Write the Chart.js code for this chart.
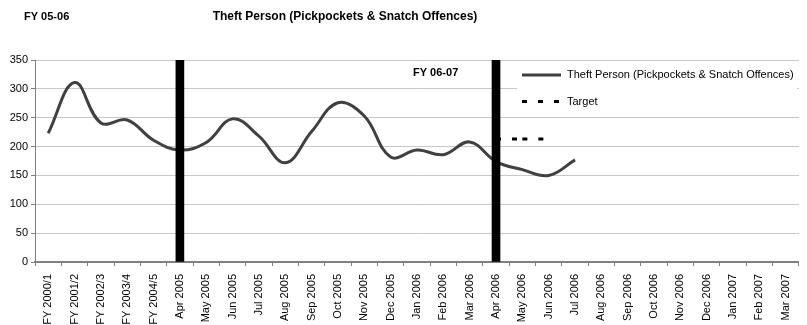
<!DOCTYPE html>
<html>
<head>
<meta charset="utf-8">
<script src="https://cdn.jsdelivr.net/npm/chart.js@4"></script>
<style>
    body { margin: 0; background: #fff; }
    .chart-box { position: relative; width: 807px; height: 325px; }
</style>
</head>
<body>
<div class="chart-box">
    <canvas id="chart-theft-person"></canvas>
</div>
<script>
// Data
var months = [
    "FY 2000/1", "FY 2001/2", "FY 2002/3", "FY 2003/4", "FY 2004/5",
    "Apr 2005", "May 2005", "Jun 2005", "Jul 2005", "Aug 2005", "Sep 2005",
    "Oct 2005", "Nov 2005", "Dec 2005", "Jan 2006", "Feb 2006", "Mar 2006",
    "Apr 2006", "May 2006", "Jun 2006", "Jul 2006", "Aug 2006", "Sep 2006",
    "Oct 2006", "Nov 2006", "Dec 2006", "Jan 2007", "Feb 2007", "Mar 2007",
];
var theftPerson = [
    223, 311, 241, 246, 211,
    194, 207, 248, 218, 172, 226, 276, 253, 182, 194, 186, 208,
    174, 160, 150, 177,
];
var target = [
    null, null, null, null, null,
    null, null, null, null, null, null, null, null, null, null, null, null,
    213, 213, 213,
];
// black bars marking the start of each financial year
var yearStart = [
    null, null, null, null, null,
    350, null, null, null, null, null, null, null, null, null, null, null,
    350,
];
var yTicks = [0, 50, 100, 150, 200, 250, 300, 350];

var fontFamily = '"Liberation Sans", Arial, sans-serif';
var lineColor = "#404040";

// title + FY captions + legend box
var annotations = {
    id: "annotations",
    afterDraw: function (chart) {
        var c = chart.ctx;
        c.save();
        c.fillStyle = "#000";
        c.textBaseline = "middle";
        c.font = "bold 12px " + fontFamily;
        c.textAlign = "center";
        c.fillText("Theft Person (Pickpockets & Snatch Offences)", 345, 17);
        c.font = "bold 11px " + fontFamily;
        c.textAlign = "left";
        c.fillText("FY 05-06", 24, 17);
        c.fillText("FY 06-07", 413, 73);

        // legend
        c.fillStyle = "#fff";
        c.fillRect(517, 63, 280, 51);
        c.lineWidth = 3;
        c.strokeStyle = lineColor;
        c.beginPath();
        c.moveTo(522, 75);
        c.lineTo(561, 75);
        c.stroke();
        c.strokeStyle = "#000";
        c.setLineDash([5, 11]);
        c.beginPath();
        c.moveTo(522, 101.5);
        c.lineTo(561, 101.5);
        c.stroke();
        c.setLineDash([]);
        c.fillStyle = "#000";
        c.font = "11px " + fontFamily;
        c.fillText(chart.data.datasets[0].label, 567, 75);
        c.fillText(chart.data.datasets[1].label, 567, 101.5);
        c.restore();
    },
};

Chart.defaults.font.family = fontFamily;
Chart.defaults.font.size = 11;
Chart.defaults.color = "#000";

var ctx = document.getElementById("chart-theft-person").getContext("2d");
var myChart = new Chart(ctx, {
    type: "line",
    data: {
        labels: months,
        datasets: [
            {
                label: "Theft Person (Pickpockets & Snatch Offences)",
                data: theftPerson,
                borderColor: lineColor,
                borderWidth: 3,
                tension: 0.4,
                pointRadius: 0,
                fill: false,
                order: 3,
            },
            {
                label: "Target",
                data: target,
                borderColor: "#000",
                borderWidth: 3,
                borderDash: [5, 11],
                pointRadius: 0,
                fill: false,
                order: 1,
                // stroke each segment on its own so the dash restarts at every point
                segment: {
                    borderDashOffset: function (s) {
                        return s.p0DataIndex % 2 ? 0.01 : 0;
                    },
                },
            },
            {
                type: "bar",
                label: "Year start",
                data: yearStart,
                backgroundColor: "#000",
                barThickness: 8,
                order: 2,
            },
        ],
    },
    options: {
        animation: false,
        responsive: true,
        maintainAspectRatio: false,
        layout: {
            padding: { top: 60, left: 0, right: 0, bottom: 0 }
        },
        plugins: {
            legend: { display: false },
            title: { display: false },
            tooltip: { enabled: false },
        },
        scales: {
            x: {
                offset: true,
                grid: {
                    offset: true,
                    drawOnChartArea: false,
                    tickLength: 4,
                    tickColor: "#808080",
                },
                border: { color: "#808080", width: 2 },
                ticks: {
                    autoSkip: false,
                    minRotation: 90,
                    maxRotation: 90,
                    padding: 8,
                },
                afterFit: function (scale) {
                    scale.height = 63;
                },
            },
            y: {
                min: 0,
                max: 350,
                afterBuildTicks: function (scale) {
                    scale.ticks = yTicks.map(function (v) { return { value: v }; });
                },
                grid: {
                    color: "#c8c8c8",
                    tickLength: 4,
                    tickColor: "#808080",
                },
                border: { color: "#808080", width: 1 },
                ticks: { padding: 3 },
                afterFit: function (scale) {
                    scale.width = 35;
                },
            },
        },
    },
    plugins: [annotations],
});
</script>
</body>
</html>
